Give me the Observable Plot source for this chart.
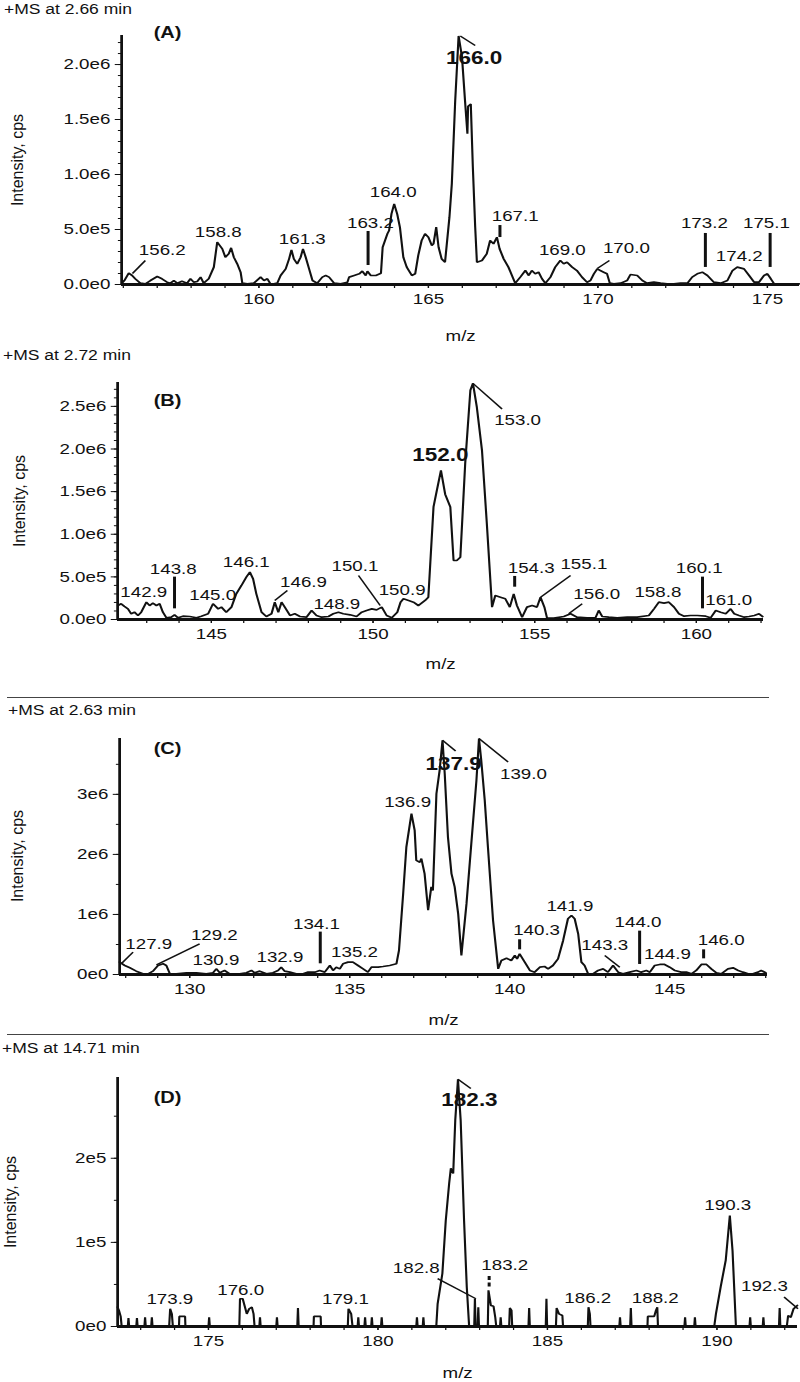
<!DOCTYPE html>
<html>
<head>
<meta charset="utf-8">
<script src="https://cdn.jsdelivr.net/npm/d3@7"></script>
<script src="https://cdn.jsdelivr.net/npm/@observablehq/plot@0.6"></script>
<style>
  html, body { margin: 0; padding: 0; background: #fff; }
  #root { position: relative; width: 800px; height: 1382px; overflow: hidden; font-family: 'Liberation Sans', Arial, sans-serif; color: #111; }
  .title { position: absolute; font-size: 14px; line-height: 16px; white-space: nowrap; transform: scaleX(1.25); transform-origin: 0 0; }
  .ylab { position: absolute; font-size: 16px; white-space: nowrap; transform: translate(-50%, -50%) rotate(-90deg); }
  .sep { position: absolute; height: 0; border-top: 1px solid #444; }
  .panel { position: absolute; left: 0; }
</style>
</head>
<body>
<div id="root"></div>
<script>
// ---------- panel titles ----------
const titles = ["+MS at 2.66 min", "+MS at 2.72 min", "+MS at 2.63 min", "+MS at 14.71 min"];
const tags = ["(A)", "(B)", "(C)", "(D)"];
const yAxisTitle = "Intensity, cps";
const xAxisTitle = "m/z";

// ---------- axis ticks ----------
const xTicksA = [160, 165, 170, 175];
const xTicksB = [145, 150, 155, 160];
const xTicksC = [130, 135, 140, 145];
const xTicksD = [175, 180, 185, 190];
const yTicksA = [0, 5e5, 1e6, 1.5e6, 2e6];
const yLabelsA = ["0.0e0", "5.0e5", "1.0e6", "1.5e6", "2.0e6"];
const yTicksB = [0, 5e5, 1e6, 1.5e6, 2e6, 2.5e6];
const yLabelsB = ["0.0e0", "5.0e5", "1.0e6", "1.5e6", "2.0e6", "2.5e6"];
const yTicksC = [0, 1e6, 2e6, 3e6];
const yLabelsC = ["0e0", "1e6", "2e6", "3e6"];
const yTicksD = [0, 1e5, 2e5];
const yLabelsD = ["0e0", "1e5", "2e5"];

// ---------- spectra [m/z, intensity] ----------
const specA = [
[155.96,12e3],[156.03,36e3],[156.16,103e3],[156.26,82e3],[156.35,52e3],[156.50,12e3],[156.65,6e3],[156.80,36e3],[157.00,73e3],[157.14,52e3],
[157.29,21e3],[157.39,12e3],[157.49,36e3],[157.59,12e3],[157.73,30e3],[157.88,12e3],[157.98,52e3],[158.08,21e3],[158.18,27e3],[158.28,67e3],
[158.37,12e3],[158.52,52e3],[158.67,158e3],[158.77,385e3],[158.92,324e3],[159.01,248e3],[159.11,279e3],[159.18,333e3],[159.26,248e3],[159.36,188e3],
[159.46,112e3],[159.51,12e3],[159.66,6e3],[159.85,12e3],[160.05,67e3],[160.15,36e3],[160.25,52e3],[160.34,6e3],[160.44,6e3],[160.54,12e3],
[160.64,82e3],[160.79,142e3],[160.89,233e3],[160.96,315e3],[161.03,233e3],[161.13,188e3],[161.23,248e3],[161.30,324e3],[161.38,248e3],[161.48,142e3],
[161.58,36e3],[161.72,12e3],[161.87,67e3],[161.97,82e3],[162.07,67e3],[162.22,12e3],[162.41,6e3],[162.61,21e3],[162.66,67e3],[162.81,82e3],
[162.96,97e3],[163.05,121e3],[163.15,82e3],[163.20,121e3],[163.30,82e3],[163.45,82e3],[163.60,103e3],[163.65,339e3],[163.79,461e3],[163.84,491e3],
[163.91,642e3],[163.99,733e3],[164.08,640e3],[164.16,520e3],[164.26,248e3],[164.36,158e3],[164.51,82e3],[164.61,97e3],[164.70,264e3],[164.80,400e3],
[164.90,461e3],[165.00,430e3],[165.10,355e3],[165.15,370e3],[165.23,521e3],[165.30,339e3],[165.39,233e3],[165.49,203e3],[165.62,612e3],[165.69,915e3],
[165.79,1670e3],[165.89,2260e3],[165.99,2070e3],[166.08,1670e3],[166.15,1370e3],[166.17,1620e3],[166.25,1640e3],[166.31,1070e3],[166.38,521e3],[166.43,203e3],
[166.58,218e3],[166.72,279e3],[166.82,400e3],[166.92,370e3],[167.02,430e3],[167.10,324e3],[167.22,233e3],[167.36,158e3],[167.56,12e3],[167.71,67e3],
[167.86,127e3],[167.96,82e3],[168.05,127e3],[168.15,97e3],[168.25,112e3],[168.35,52e3],[168.45,12e3],[168.60,67e3],[168.74,158e3],[168.89,218e3],
[168.99,188e3],[169.09,203e3],[169.24,158e3],[169.38,127e3],[169.53,67e3],[169.68,21e3],[169.78,36e3],[169.88,97e3],[169.98,142e3],[170.07,127e3],
[170.17,112e3],[170.27,97e3],[170.35,12e3],[170.47,6e3],[170.67,12e3],[170.86,36e3],[170.96,91e3],[171.16,82e3],[171.31,36e3],[171.45,12e3],
[171.65,21e3],[171.85,12e3],[172.04,6e3],[172.24,6e3],[172.44,12e3],[172.64,12e3],[172.78,67e3],[172.93,97e3],[173.08,112e3],[173.23,82e3],
[173.42,21e3],[173.62,12e3],[173.82,36e3],[173.97,127e3],[174.11,158e3],[174.31,142e3],[174.46,82e3],[174.61,21e3],[174.75,21e3],[174.90,82e3],
[175.00,97e3],[175.10,52e3],[175.20,6e3],[175.39,0],[175.79,0],[175.94,6e3]
];

const specB = [
[142.11,164e3],[142.21,184e3],[142.31,153e3],[142.42,125e3],[142.52,67e3],[142.62,86e3],[142.73,47e3],[142.83,86e3],[142.99,203e3],[143.09,164e3],
[143.19,192e3],[143.30,164e3],[143.40,184e3],[143.50,86e3],[143.61,20e3],[143.76,27e3],[143.86,55e3],[143.97,20e3],[144.12,39e3],[144.33,35e3],
[144.54,20e3],[144.69,39e3],[144.90,67e3],[145.05,184e3],[145.21,125e3],[145.31,145e3],[145.46,86e3],[145.62,145e3],[145.77,301e3],[145.93,399e3],
[146.08,497e3],[146.19,556e3],[146.29,477e3],[146.39,301e3],[146.55,86e3],[146.70,35e3],[146.86,67e3],[146.96,203e3],[147.07,86e3],[147.17,203e3],
[147.27,145e3],[147.43,47e3],[147.58,67e3],[147.74,35e3],[147.94,27e3],[148.10,106e3],[148.25,47e3],[148.41,27e3],[148.62,35e3],[148.77,67e3],
[148.93,86e3],[149.08,67e3],[149.29,55e3],[149.49,35e3],[149.65,86e3],[149.80,106e3],[149.96,125e3],[150.11,113e3],[150.27,145e3],[150.42,47e3],
[150.58,20e3],[150.75,86e3],[150.85,203e3],[150.94,243e3],[151.10,223e3],[151.25,203e3],[151.40,164e3],[151.61,223e3],[151.71,262e3],[151.87,1320e3],
[151.97,1510e3],[152.10,1750e3],[152.23,1470e3],[152.39,1320e3],[152.49,692e3],[152.59,692e3],[152.70,731e3],[152.85,1830e3],[153.01,2690e3],[153.09,2770e3],
[153.21,2490e3],[153.37,1980e3],[153.52,1120e3],[153.68,145e3],[153.78,282e3],[153.94,262e3],[154.09,243e3],[154.23,145e3],[154.35,301e3],[154.45,164e3],
[154.61,27e3],[154.76,145e3],[154.92,164e3],[155.07,145e3],[155.18,262e3],[155.30,145e3],[155.38,20e3],[155.59,16e3],[155.90,35e3],[156.11,67e3],
[156.31,27e3],[156.62,20e3],[156.88,20e3],[156.98,106e3],[157.09,35e3],[157.29,27e3],[157.55,20e3],[157.86,27e3],[158.17,27e3],[158.53,47e3],
[158.69,125e3],[158.84,203e3],[159.00,192e3],[159.15,203e3],[159.31,145e3],[159.46,67e3],[159.62,39e3],[159.82,47e3],[160.03,47e3],[160.29,39e3],
[160.44,20e3],[160.60,106e3],[160.75,86e3],[160.91,67e3],[161.06,125e3],[161.17,67e3],[161.32,47e3],[161.48,27e3],[161.63,35e3],[161.79,47e3],
[161.94,67e3],[162.05,35e3]
];

const specC = [
[127.81,206e3],[127.97,150e3],[128.13,111e3],[128.33,56e3],[128.54,11e3],[128.70,11e3],[128.85,56e3],[129.01,150e3],[129.17,178e3],[129.27,150e3],
[129.38,11e3],[129.58,11e3],[129.90,28e3],[130.21,28e3],[130.52,11e3],[130.73,28e3],[130.83,94e3],[130.94,28e3],[131.09,67e3],[131.25,11e3],
[131.56,11e3],[131.77,28e3],[131.93,67e3],[132.03,28e3],[132.19,56e3],[132.40,11e3],[132.60,28e3],[132.76,67e3],[132.86,122e3],[132.97,56e3],
[133.13,39e3],[133.33,11e3],[133.54,11e3],[133.70,39e3],[133.91,39e3],[134.06,67e3],[134.22,39e3],[134.38,150e3],[134.48,67e3],[134.58,122e3],
[134.69,94e3],[134.79,178e3],[134.95,206e3],[135.10,206e3],[135.26,150e3],[135.42,94e3],[135.57,39e3],[135.68,122e3],[135.89,122e3],[136.04,133e3],
[136.25,150e3],[136.46,178e3],[136.54,400e3],[136.67,1340e3],[136.77,2120e3],[136.93,2680e3],[137.03,2400e3],[137.08,1900e3],[137.19,1870e3],[137.24,1930e3],
[137.34,1680e3],[137.45,1070e3],[137.55,1460e3],[137.60,1400e3],[137.71,3010e3],[137.81,3400e3],[137.90,3900e3],[137.97,3340e3],[138.07,2290e3],[138.18,1680e3],
[138.28,1460e3],[138.39,1010e3],[138.49,317e3],[138.65,1180e3],[138.80,2180e3],[138.96,3230e3],[139.04,3930e3],[139.11,3570e3],[139.22,2900e3],[139.32,2120e3],
[139.48,900e3],[139.64,94e3],[139.74,233e3],[139.90,272e3],[140.05,233e3],[140.16,317e3],[140.23,261e3],[140.31,344e3],[140.47,206e3],[140.63,67e3],
[140.78,39e3],[140.94,122e3],[141.09,133e3],[141.20,94e3],[141.35,150e3],[141.51,261e3],[141.67,567e3],[141.82,928e3],[141.93,983e3],[142.03,928e3],
[142.14,678e3],[142.24,206e3],[142.34,150e3],[142.45,11e3],[142.60,11e3],[142.76,67e3],[142.92,94e3],[143.07,39e3],[143.23,150e3],[143.39,39e3],
[143.54,11e3],[143.75,39e3],[143.96,67e3],[144.11,39e3],[144.27,67e3],[144.38,39e3],[144.53,150e3],[144.69,167e3],[144.84,167e3],[145.00,122e3],
[145.16,67e3],[145.36,39e3],[145.52,39e3],[145.68,11e3],[145.83,67e3],[145.99,167e3],[146.15,167e3],[146.30,94e3],[146.46,28e3],[146.61,11e3],
[146.82,94e3],[146.98,111e3],[147.14,67e3],[147.29,39e3],[147.45,11e3],[147.60,11e3],[147.76,39e3],[147.86,67e3],[148.00,28e3]
];

const specD = [
[172.32,23e3],[172.36,19e3],[172.41,12e3],[172.44,0],[172.62,0],[172.64,10e3],[172.66,0],[172.87,0],[172.89,10e3],[172.91,0],
[173.11,0],[173.13,11e3],[173.15,0],[173.31,0],[173.33,11e3],[173.35,0],[173.84,0],[173.87,21e3],[173.92,15e3],[173.95,0],
[174.13,0],[174.14,12e3],[174.31,12e3],[174.32,0],[175.00,0],[175.02,11e3],[175.04,0],
[175.91,0],[175.93,33e3],[176.01,33e3],[176.13,15e3],[176.20,21e3],[176.28,23e3],[176.33,15e3],[176.36,0],
[176.50,0],[176.52,11e3],[176.54,0],[177.00,0],[177.02,11e3],[177.04,0],[177.62,0],[177.64,22e3],[177.66,0],
[178.10,0],[178.11,12e3],[178.31,12e3],[178.32,0],[179.11,0],[179.13,21e3],[179.21,15e3],[179.25,0],
[179.40,0],[179.42,11e3],[179.44,0],[179.60,0],[179.62,11e3],[179.64,0],[179.80,0],[179.82,11e3],[179.84,0],
[180.09,0],[180.11,11e3],[180.13,0],[181.13,0],[181.15,11e3],[181.17,0],[181.32,0],[181.34,11e3],[181.36,0],
[181.72,0],[181.76,27e3],[181.90,63e3],[182.00,126e3],[182.10,170e3],[182.15,188e3],[182.22,182e3],[182.28,245e3],[182.36,294e3],[182.44,245e3],
[182.54,126e3],[182.62,47e3],[182.69,0],[182.84,0],[182.86,33e3],[182.88,0],[182.94,0],[182.96,23e3],[182.98,0],
[183.24,0],[183.26,43e3],[183.33,25e3],[183.41,24e3],[183.46,11e3],[183.49,0],[183.60,0],[183.62,11e3],[183.64,0],
[183.87,0],[183.89,22e3],[183.94,19e3],[183.96,0],[184.44,0],[184.46,22e3],[184.48,0],[184.95,0],[184.97,33e3],[184.99,0],
[185.25,0],[185.27,22e3],[185.34,15e3],[185.44,13e3],[185.46,0],[186.19,0],[186.21,23e3],[186.25,15e3],[186.27,0],
[187.12,0],[187.14,11e3],[187.16,0],[187.44,0],[187.46,22e3],[187.48,0],
[187.95,0],[187.96,12e3],[188.15,12e3],[188.20,19e3],[188.24,23e3],[188.26,0],
[189.04,0],[189.06,11e3],[189.08,0],[189.33,0],[189.35,11e3],[189.37,0],
[189.92,0],[189.97,15e3],[190.11,47e3],[190.26,79e3],[190.38,132e3],[190.46,90e3],[190.56,0],
[190.96,0],[190.98,11e3],[191.00,0],[191.35,0],[191.37,11e3],[191.39,0],[191.83,0],[191.85,22e3],[191.87,0],
[192.06,0],[192.10,13e3],[192.18,11e3],[192.26,21e3],[192.37,25e3]
];

// ---------- peak annotations [text, m/z, intensity] ----------
const peaksA = [["156.2",157.15,309e3],["158.8",158.80,473e3],["161.3",161.28,409e3],["163.2",163.29,555e3],["164.0",163.96,836e3],
  ["167.1",167.56,618e3],["169.0",168.95,309e3],["170.0",170.84,327e3],["173.2",173.14,555e3],["174.2",174.17,255e3],["175.1",174.97,555e3]];
const basePeakA = [["166.0",166.35,2055e3]];
const peaksB = [["142.9",142.91,321e3],["143.8",143.82,595e3],["145.0",145.04,282e3],["146.1",146.08,673e3],["146.9",147.85,438e3],
  ["148.9",148.88,176e3],["150.1",149.44,622e3],["150.9",150.90,340e3],["153.0",154.47,2340e3],["154.3",154.89,606e3],
  ["155.1",156.52,653e3],["156.0",156.92,301e3],["158.8",158.81,321e3],["160.1",160.09,606e3],["161.0",161.00,231e3]];
const basePeakB = [["152.0",152.08,1925e3]];
const peaksC = [["127.9",128.72,511e3],["129.2",130.77,650e3],["130.9",130.82,244e3],["132.9",132.82,289e3],["134.1",133.96,844e3],
  ["135.2",135.15,372e3],["136.9",136.81,2870e3],["139.0",140.43,3330e3],["140.3",140.84,733e3],["141.9",141.88,1130e3],
  ["143.3",142.97,483e3],["144.0",144.01,872e3],["144.9",144.93,333e3],["146.0",146.61,578e3]];
const basePeakC = [["137.9",138.25,3500e3]];
const peaksD = [["173.9",173.86,33e3],["176.0",175.95,43e3],["179.1",179.04,33e3],["182.8",181.13,69e3],["183.2",183.74,73e3],
  ["186.2",186.19,34e3],["188.2",188.18,34e3],["190.3",190.32,144e3],["192.3",191.40,48e3]];
const basePeakD = [["182.3",182.70,269e3]];

// leader lines [mz1, I1, mz2, I2] and bars [mz, I1, I2]
const leadersA = [[156.27,100e3,156.65,218e3],[165.94,2260e3,166.38,2173e3],[169.98,145e3,170.34,218e3]];
const barsA = [[163.22,173e3,482e3],[167.11,427e3,536e3],[173.17,155e3,464e3],[175.08,155e3,464e3]];
const leadersB = [[146.96,223e3,147.35,340e3],[149.55,516e3,150.22,164e3],[153.09,2770e3,153.99,2470e3],[155.18,262e3,156.11,516e3],[156.05,67e3,156.47,184e3]];
const barsB = [[143.86,125e3,497e3],[154.38,379e3,505e3],[160.19,125e3,497e3]];
const leadersC = [[127.86,178e3,128.23,372e3],[128.96,161e3,130.31,511e3],[137.90,3900e3,138.31,3720e3],[139.04,3930e3,139.95,3540e3],[142.97,317e3,143.44,122e3]];
const barsC = [[134.08,178e3,706e3],[140.31,411e3,578e3],[144.06,167e3,722e3],[146.06,261e3,411e3]];
const leadersD = [[181.76,57e3,182.89,33e3],[182.36,294e3,182.74,283e3],[191.98,35e3,192.39,21e3]];
const barsD = [[183.28,47e3,62e3]];

// ---------- layout ----------
const S = 1.25;            // horizontal stretch of the original figure
const W = 800 / S;
const panels = [
  {top: 0, h: 350, mt: 35, mb: 66, left: 121, right: 799, xd: [155.95, 175.95], yd: [0, 2.264e6], spec: specA, xt: xTicksA, yt: yTicksA, yl: yLabelsA, yMinor: 1e5,
   peaks: peaksA, base: basePeakA, leaders: leadersA, bars: barsA, tagDy: -3, mzDy: 52, titleTop: 1, titleLeft: 4, ylx: 18, dash: null},
  {top: 365, h: 310, mt: 17, mb: 56, left: 117, right: 763, xd: [142.1, 162.08], yd: [0, 2.78e6], spec: specB, xt: xTicksB, yt: yTicksB, yl: yLabelsB, yMinor: 1e5,
   peaks: peaksB, base: basePeakB, leaders: leadersB, bars: barsB, tagDy: 18, mzDy: 45, titleTop: 347, titleLeft: 3, ylx: 20, dash: null},
  {top: 720, h: 310, mt: 18, mb: 56, left: 119, right: 767, xd: [127.81, 148.06], yd: [0, 3.93e6], spec: specC, xt: xTicksC, yt: yTicksC, yl: yLabelsC, yMinor: 5e5,
   peaks: peaksC, base: basePeakC, leaders: leadersC, bars: barsC, tagDy: 10, mzDy: 46, titleTop: 702, titleLeft: 8, ylx: 18, dash: null},
  {top: 1060, h: 322, mt: 17, mb: 56, left: 117, right: 797, xd: [172.32, 192.38], yd: [0, 2.96e5], spec: specD, xt: xTicksD, yt: yTicksD, yl: yLabelsD, yMinor: 5e4,
   peaks: peaksD, base: basePeakD, leaders: leadersD, bars: barsD, tagDy: 20, mzDy: 47, titleTop: 1040, titleLeft: 2, ylx: 11, dash: "4,2.5"}
];

const root = document.getElementById("root");
const ink = "#111";

panels.forEach((p, i) => {
  const ml = p.left / S, mr = (800 - p.right) / S;
  const xMinor = d3.range(Math.ceil(p.xd[0]), p.xd[1], 1);
  const yMinor = d3.range(0, p.yd[1], p.yMinor);
  const chart = Plot.plot({
    width: W, height: p.h,
    marginTop: p.mt, marginBottom: p.mb, marginLeft: ml, marginRight: mr,
    x: {domain: p.xd},
    y: {domain: p.yd},
    style: {fontFamily: "'Liberation Sans', Arial, sans-serif", fontSize: "15px", color: ink, background: "transparent"},
    marks: [
      Plot.axisY(yMinor, {tickSize: 2.5, fill: "none", label: null, stroke: ink}),
      Plot.axisY(p.yt, {tickSize: 5, tickPadding: 4, label: null, stroke: ink, fill: ink, fontSize: 15,
        tickFormat: d => p.yl[p.yt.indexOf(d)]}),
      Plot.axisX(xMinor, {tickSize: 4, fill: "none", label: null, stroke: ink}),
      Plot.axisX(p.xt, {tickSize: 4, tickPadding: 5, label: null, stroke: ink, fill: ink, fontSize: 15}),
      Plot.ruleX([p.xd[0]], {stroke: ink, strokeWidth: 2.2}),
      Plot.ruleY([0], {stroke: ink, strokeWidth: 3}),
      Plot.line(p.spec, {x: d => d[0], y: d => d[1], stroke: ink, strokeWidth: 1.7, strokeLinejoin: "miter"}),
      Plot.link(p.leaders, {x1: d => d[0], y1: d => d[1], x2: d => d[2], y2: d => d[3], stroke: ink, strokeWidth: 1.4}),
      Plot.ruleX(p.bars, {x: d => d[0], y1: d => d[1], y2: d => d[2], stroke: ink, strokeWidth: 2.4, strokeDasharray: p.dash}),
      Plot.text(p.peaks, {x: d => d[1], y: d => d[2], text: d => d[0], fill: ink, fontSize: 15}),
      Plot.text(p.base, {x: d => d[1], y: d => d[2], text: d => d[0], fill: ink, fontSize: 18, fontWeight: "bold"}),
      Plot.text([tags[i]], {frameAnchor: "top-left", text: d => d, dx: (153 - p.left) / S, dy: p.tagDy,
        textAnchor: "start", lineAnchor: "middle", fontWeight: "bold", fontSize: 16, fill: ink}),
      Plot.text([xAxisTitle], {frameAnchor: "bottom", text: d => d, dy: p.mzDy, lineAnchor: "middle", fontSize: 15, fill: ink})
    ]
  });
  chart.setAttribute("width", 800);
  chart.setAttribute("height", p.h);
  chart.setAttribute("preserveAspectRatio", "none");
  chart.style.width = "800px";
  chart.style.height = p.h + "px";
  chart.style.maxWidth = "none";
  const wrap = document.createElement("div");
  wrap.className = "panel";
  wrap.style.top = p.top + "px";
  wrap.appendChild(chart);
  root.appendChild(wrap);

  const t = document.createElement("div");
  t.className = "title";
  t.textContent = titles[i];
  t.style.top = p.titleTop + "px";
  t.style.left = p.titleLeft + "px";
  root.appendChild(t);

  const yl = document.createElement("div");
  yl.className = "ylab";
  yl.textContent = yAxisTitle;
  yl.style.left = p.ylx + "px";
  yl.style.top = (p.top + p.mt + (p.h - p.mt - p.mb) / 2) + "px";
  root.appendChild(yl);
});

[697, 1034].forEach(y => {
  const s = document.createElement("div");
  s.className = "sep";
  s.style.top = y + "px";
  s.style.left = "7px";
  s.style.width = "762px";
  root.appendChild(s);
});
</script>
</body>
</html>
